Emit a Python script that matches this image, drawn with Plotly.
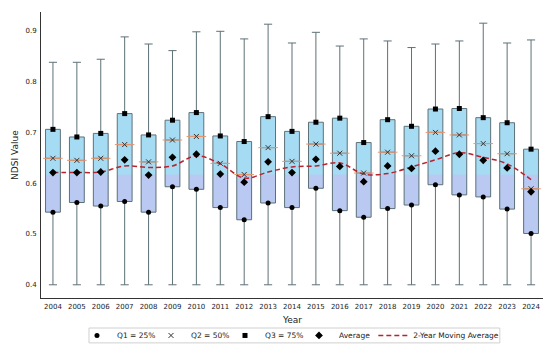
import plotly.graph_objects as go

years = [str(y) for y in range(2004, 2025)]
upper = [0.838, 0.838, 0.844, 0.888, 0.874, 0.861, 0.898, 0.899, 0.884, 0.913, 0.876,
         0.897, 0.870, 0.884, 0.880, 0.867, 0.874, 0.880, 0.915, 0.876, 0.882]
lower = [0.400] * 21
q1 = [0.543, 0.562, 0.555, 0.564, 0.543, 0.593, 0.588, 0.552, 0.528, 0.561, 0.552,
      0.590, 0.546, 0.533, 0.550, 0.557, 0.597, 0.577, 0.573, 0.549, 0.501]
median = [0.649, 0.645, 0.649, 0.676, 0.642, 0.685, 0.692, 0.639, 0.617, 0.670, 0.643,
          0.677, 0.659, 0.620, 0.661, 0.654, 0.700, 0.695, 0.678, 0.658, 0.589]
q3 = [0.706, 0.691, 0.698, 0.737, 0.695, 0.724, 0.739, 0.693, 0.682, 0.731, 0.702,
      0.720, 0.728, 0.680, 0.725, 0.712, 0.746, 0.747, 0.729, 0.719, 0.667]
average = [0.621, 0.621, 0.622, 0.646, 0.616, 0.651, 0.657, 0.618, 0.602, 0.642, 0.621,
           0.647, 0.633, 0.603, 0.634, 0.629, 0.663, 0.657, 0.645, 0.630, 0.583]
moving_avg = [0.621, 0.621, 0.622, 0.634, 0.631, 0.634, 0.654, 0.638, 0.610, 0.622, 0.632,
              0.634, 0.640, 0.618, 0.619, 0.632, 0.646, 0.660, 0.651, 0.638, 0.607]

# style
SPLIT_LEVEL = 0.617
BOX_W = 0.62
SKY = "#a6dcf3"
LAV = "#bac9f2"
EDGE = "#5d7177"
FONT = "DejaVu Sans"

fig = go.Figure()

# box fills (two-tone)
fig.add_trace(go.Bar(x=years, y=[b - a for a, b in zip(q1, q3)], base=q1, width=BOX_W,
                     marker=dict(color=SKY, line=dict(width=0)), showlegend=False,
                     hoverinfo="skip"))
lav_top = [min(t, SPLIT_LEVEL) for t in q3]
fig.add_trace(go.Bar(x=years, y=[t - a for a, t in zip(q1, lav_top)], base=q1, width=BOX_W,
                     marker=dict(color=LAV, line=dict(width=0)), showlegend=False,
                     hoverinfo="skip"))

# box outline and whiskers
fig.add_trace(go.Box(x=years, q1=q1, median=median, q3=q3, lowerfence=lower,
                     upperfence=upper, width=BOX_W, whiskerwidth=0.55,
                     fillcolor="rgba(0,0,0,0)", line=dict(color=EDGE, width=1),
                     boxpoints=False, showlegend=False, hoverinfo="skip"))

# median orange line
fig.add_trace(go.Scatter(x=years, y=median, mode="markers",
                         marker=dict(symbol="line-ew-open", size=14, color="#e89870",
                                     line=dict(color="#e89870", width=1)),
                         showlegend=False, hoverinfo="skip"))

# moving average
fig.add_trace(go.Scatter(x=years, y=moving_avg, mode="lines", name="2-Year Moving Average",
                         legend="legend2",
                         line=dict(color="#b8232f", width=1.5, dash="5px,3px", shape="spline")))

fig.add_trace(go.Scatter(x=years, y=q1, mode="markers", name="Q1 = 25%",
                         marker=dict(symbol="circle", size=5, color="black")))
fig.add_trace(go.Scatter(x=years, y=median, mode="markers", name="Q2 = 50%",
                         marker=dict(symbol="x-thin-open", size=5, color="#333333",
                                     line=dict(color="#333333", width=1))))
fig.add_trace(go.Scatter(x=years, y=q3, mode="markers", name="Q3 = 75%",
                         marker=dict(symbol="square", size=5, color="black")))
fig.add_trace(go.Scatter(x=years, y=average, mode="markers", name="Average",
                         marker=dict(symbol="diamond", size=6, color="black")))

legend_order = ["Q1 = 25%", "Q2 = 50%", "Q3 = 75%", "Average", "2-Year Moving Average"]
for t in fig.data:
    if t.name in legend_order:
        t.legendrank = legend_order.index(t.name) + 1

LEG_Y = -0.131
leg_common = dict(orientation="h", y=LEG_Y, yanchor="middle", xanchor="left",
                  bgcolor="rgba(0,0,0,0)", borderwidth=0, font=dict(size=7.5),
                  itemwidth=30, tracegroupgap=0)

fig.update_layout(
    width=550, height=400, autosize=False,
    margin=dict(l=41, r=7, t=12, b=102),
    paper_bgcolor="white", plot_bgcolor="white",
    barmode="overlay",
    font=dict(family=FONT, size=7, color="#222222"),
    legend=dict(x=0.0717, entrywidth=29, entrywidthmode="pixels", **leg_common),
    legend2=dict(x=0.662, **leg_common),
    xaxis=dict(type="category", range=[-0.5, 20.5], showline=True, linecolor="#333333",
               linewidth=1, ticks="outside", ticklen=2, tickcolor="white",
               showgrid=False, automargin=False),
    yaxis=dict(range=[0.374, 0.937], tickvals=[0.4, 0.5, 0.6, 0.7, 0.8, 0.9],
               tickformat=".1f", showline=True, linecolor="#333333", linewidth=1,
               ticks="outside", ticklen=2, tickcolor="white", showgrid=False,
               zeroline=False, automargin=False),
    shapes=[dict(type="rect", xref="paper", yref="paper", x0=0.0956, x1=0.914,
                 y0=-0.105, y1=-0.157, line=dict(color="#d0d0d0", width=1),
                 fillcolor="rgba(0,0,0,0)", layer="above")],
    annotations=[
        dict(text="Year", xref="paper", yref="paper", x=0.5, y=-0.077,
             xanchor="center", yanchor="middle", showarrow=False, font=dict(size=9)),
        dict(text="NDSI Value", xref="paper", yref="paper", x=-0.052, y=0.5,
             xanchor="center", yanchor="middle", textangle=-90, showarrow=False,
             font=dict(size=9)),
    ],
)

fig.write_html("out.html", config={"displayModeBar": False, "responsive": False},
               post_script="document.body.style.margin='0';")
